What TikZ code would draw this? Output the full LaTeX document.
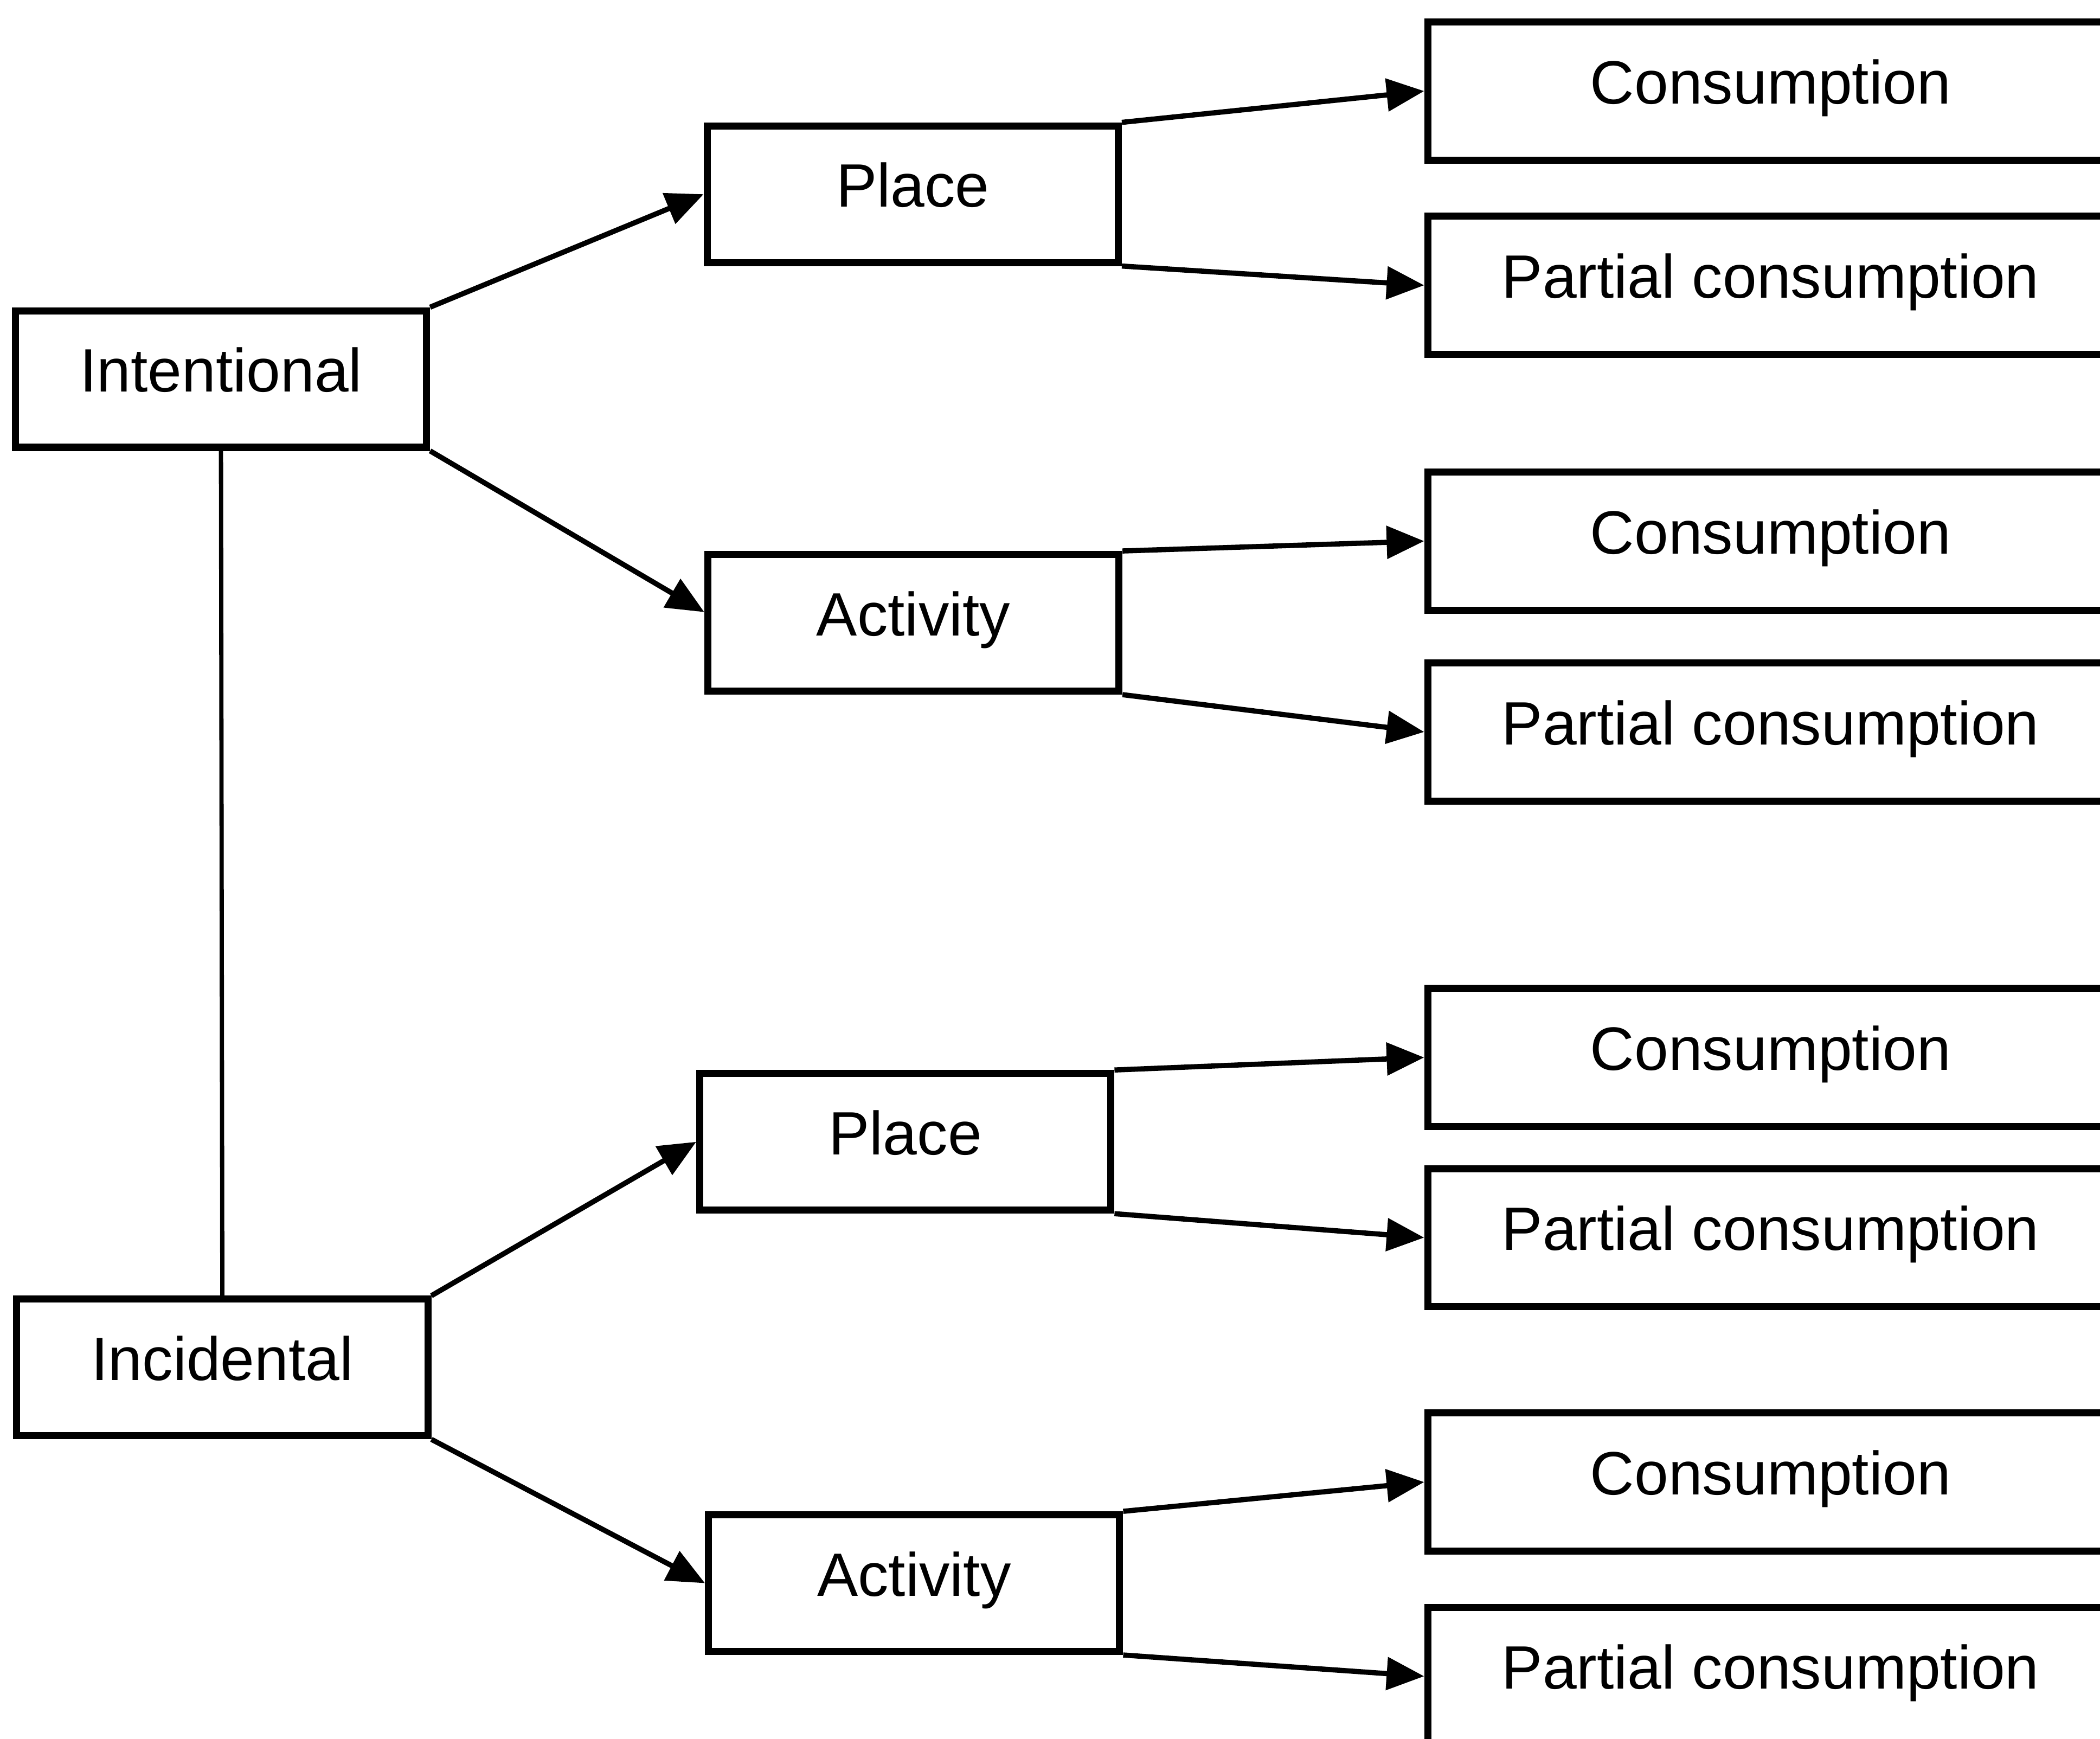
\documentclass[tikz,border=0pt]{standalone}
\usepackage{fontspec}
\setmainfont{Liberation Sans}
\usetikzlibrary{arrows.meta}

\begin{document}
\begin{tikzpicture}[
    box/.style={rectangle, draw=black, line width=1.5pt, minimum width=3.07cm, minimum height=1.02cm, align=center, text depth=0.14cm, font=\fontsize{13}{15}\selectfont},
    wide/.style={box, minimum width=5.12cm, minimum height=1.03cm},
    arrow/.style={-{Triangle[length=2.8mm, width=2.4mm]}, line width=1.1pt},
  ]
  \clip (0,0) rectangle (15.68,12.98);

  \node[box] (int) at (1.65,10.15) {Intentional};
  \node[box] (inc) at (1.66,2.77) {Incidental};

  \node[box] (pl1) at (6.815,11.53) {Place};
  \node[box] (ac1) at (6.82,8.33) {Activity};
  \node[box] (pl2) at (6.76,4.455) {Place};
  \node[box] (ac2) at (6.825,1.16) {Activity};

  \node[wide] (c1) at (13.22,12.30) {Consumption};
  \node[wide] (pc1) at (13.22,10.85) {Partial consumption};
  \node[wide] (c2) at (13.22,8.94) {Consumption};
  \node[wide] (pc2) at (13.22,7.515) {Partial consumption};
  \node[wide] (c3) at (13.22,5.085) {Consumption};
  \node[wide] (pc3) at (13.22,3.74) {Partial consumption};
  \node[wide] (c4) at (13.22,1.915) {Consumption};
  \node[wide] (pc4) at (13.22,0.465) {Partial consumption};

  \draw[line width=0.9pt] (int.south) -- (inc.north);

  \draw[arrow] (int.north east) -- (pl1.west);
  \draw[arrow] (int.south east) -- ([yshift=0.08cm]ac1.west);
  \draw[arrow] (inc.north east) -- (pl2.west);
  \draw[arrow] (inc.south east) -- (ac2.west);

  \draw[arrow] (pl1.north east) -- (c1.west);
  \draw[arrow] (pl1.south east) -- (pc1.west);
  \draw[arrow] (ac1.north east) -- (c2.west);
  \draw[arrow] (ac1.south east) -- (pc2.west);
  \draw[arrow] (pl2.north east) -- (c3.west);
  \draw[arrow] (pl2.south east) -- (pc3.west);
  \draw[arrow] (ac2.north east) -- (c4.west);
  \draw[arrow] (ac2.south east) -- (pc4.west);
\end{tikzpicture}
\end{document}
